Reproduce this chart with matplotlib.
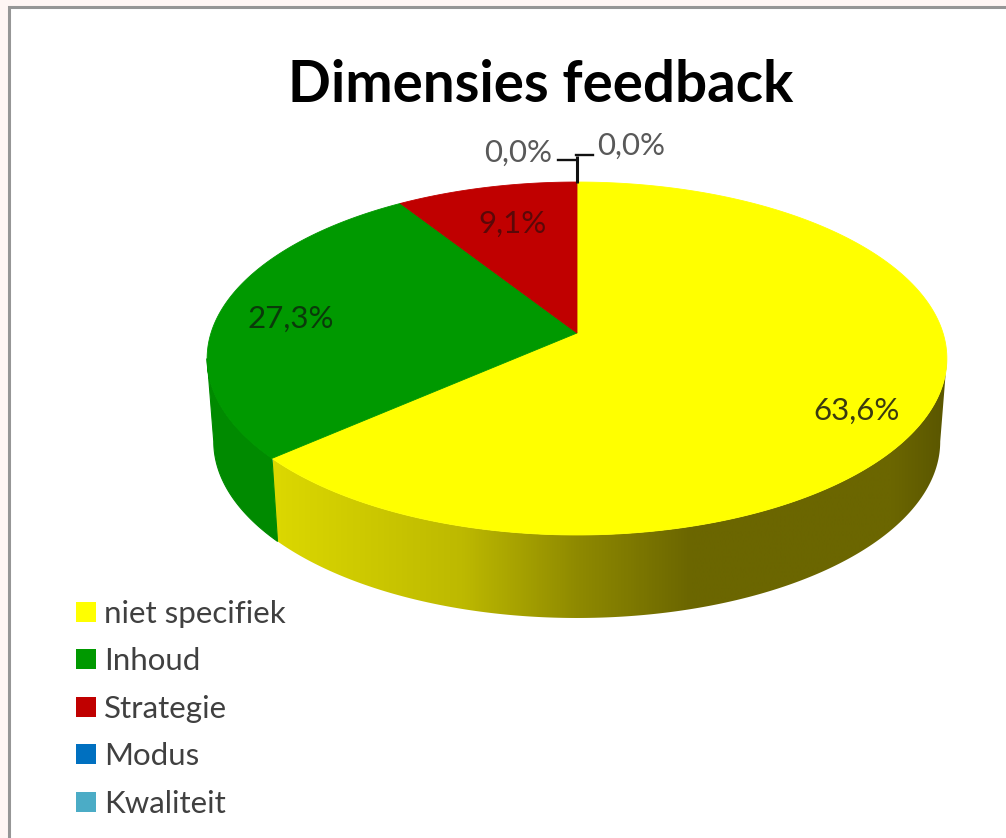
import numpy as np
import matplotlib
matplotlib.use("Agg")
import matplotlib.pyplot as plt
from matplotlib.patches import Rectangle, Patch
from matplotlib.colors import LinearSegmentedColormap

title = "Dimensies feedback"
categories = ["niet specifiek", "Inhoud", "Strategie", "Modus", "Kwaliteit"]
values = [63.6, 27.3, 9.1, 0.0, 0.0]
colors = ["#ffff00", "#009900", "#c00000", "#0070c0", "#4bacc6"]
label_pos = [(857, 411), (291, 319), (513, 224), (518, 153), (631, 146)]
label_col = ["#3a3a10", "#0a3a0a", "#5a0808", "#595959", "#595959"]

W, H = 1006, 838
plt.rcParams["font.family"] = ["Lato", "DejaVu Sans"]
fig = plt.figure(figsize=(W / 100, H / 100), dpi=100, facecolor="#fff6f4")
ax = fig.add_axes([0, 0, 1, 1])
ax.set_xlim(0, W)
ax.set_ylim(H, 0)
ax.axis("off")

ax.add_patch(Rectangle((9, 7), 1020, 860, fc="white", ec="#969696", lw=2.2, zorder=0))

# perspective projection of the pie disc
CX, CY, RX, RY, K = 577, 333, 366, 172.8, 0.1445
DEPTH, SHRINK = 83, 0.982
TH_R, TH_L = np.arccos(-K), 2 * np.pi - np.arccos(-K)  # silhouette points of the disc


def top_rim(theta):
    u, v = np.sin(theta), np.cos(theta)
    w = 1 + K * v
    return CX + RX * u / w, CY - RY * v / w


def bottom_rim(theta):
    x, y = top_rim(theta)
    return CX + (x - CX) * SHRINK, y + DEPTH


edges = np.radians(np.r_[0, np.cumsum(values)] / sum(values) * 360)

side_cmap = LinearSegmentedColormap.from_list(
    "side", [(0, "#dcd800"), (0.28, "#bdb900"), (0.45, "#8f8a00"),
             (0.62, "#6b6600"), (0.92, "#6b6600"), (1, "#5a5600")])
flat_side = "#008a00"

grad = np.linspace(0, 1, 512)[None, :]
# sides first, top faces afterwards; only the front of the disc shows
for i, (a, b) in enumerate(zip(edges[:-1], edges[1:])):
    lo, hi = max(a, TH_R), min(b, TH_L)
    if hi <= lo:
        continue
    th = np.linspace(lo, hi, 240)
    xt, yt = top_rim(th)
    xb, yb = bottom_rim(th)
    if i == 0:
        poly, = ax.fill(np.r_[xt, xb[::-1]], np.r_[yt, yb[::-1]], color="none", lw=0, zorder=1)
        im = ax.imshow(grad, extent=(273, 947, 640, 170), cmap=side_cmap, aspect="auto", zorder=1,
                       interpolation="bilinear")
        im.set_clip_path(poly)
    else:
        ax.fill(np.r_[xt, xb[::-1]], np.r_[yt, yb[::-1]], fc=flat_side, ec=flat_side, lw=0.8, zorder=1.5)

for i, (a, b) in enumerate(zip(edges[:-1], edges[1:])):
    if b - a <= 0:
        continue
    th = np.linspace(a, b, 240)
    xt, yt = top_rim(th)
    ax.fill(np.r_[CX, xt], np.r_[CY, yt], color=colors[i], lw=0.6, ec=colors[i], zorder=2)

ax.set_xlim(0, W)
ax.set_ylim(H, 0)

# leader lines of the two empty slices
ax.plot([577, 577], [183, 156], color="#111111", lw=2.2, zorder=3, solid_capstyle="butt")
ax.plot([576, 593], [155.5, 155.5], color="#111111", lw=1.7, zorder=3)
ax.plot([558, 576], [160.5, 160.5], color="#111111", lw=1.7, zorder=3)

for v, (x, y), c in zip(values, label_pos, label_col):
    ax.text(x, y, f"{v:.1f}%".replace(".", ","), ha="center", va="center", fontsize=22.5, color=c, zorder=4)

ax.text(541, 85, title, ha="center", va="center", fontsize=40.7, fontweight="bold", color="black", zorder=4)

fs = 22.5
px = fs * 100 / 72
handles = [Patch(fc=c, ec="none") for c in colors]
leg = ax.legend(handles, categories, loc="upper left", bbox_to_anchor=(76 / W, 1 - 600 / H),
                bbox_transform=fig.transFigure, frameon=False, fontsize=fs, labelcolor="#404040",
                handlelength=20 / px, handleheight=19 / px, handletextpad=8 / px,
                labelspacing=(47.3 - px * 0.89) / px, borderpad=0, borderaxespad=0)

fig.savefig("out.png", dpi=100, facecolor=fig.get_facecolor())
